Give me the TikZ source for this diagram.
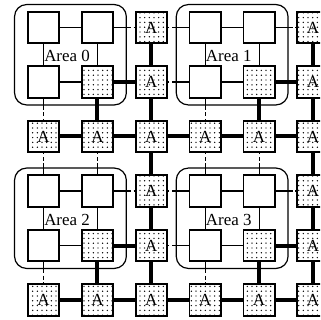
\documentclass[tikz,border=0pt]{standalone}
\usepackage{fontspec}
\setmainfont{Liberation Serif}
\usetikzlibrary{positioning,fit,patterns.meta}

\tikzdeclarepattern{name=scandots,type=uncolored,
  bounding box={(-0.7pt,-0.7pt) and (0.7pt,0.7pt)},
  tile size={(3.5pt,3.6pt)},
  code={\fill (0pt,0pt) circle [radius=0.55pt];}}

\begin{document}
\begin{tikzpicture}
[x=0.75pt,y=0.75pt,
 cell/.style={draw,line width=1.3pt,minimum size=23.5pt,inner sep=0pt,
   font=\fontsize{12.7}{15}\selectfont},
 wbox/.style={cell,fill=white},
 dbox/.style={cell,pattern=scandots},
 abox/.style={dbox},
 area/.style={draw,line width=0.9pt,rounded corners=9pt,inner xsep=9.3pt,inner ysep=4.8pt},
 areatext/.style={anchor=west,inner sep=0pt,font=\fontsize{12.7}{15}\selectfont},
 lan/.style={line width=0.8pt},
 trunk/.style={line width=3pt},
 dlink/.style={line width=0.8pt,dash pattern=on 3pt off 2pt}]
\clip (0,0) rectangle (320,-320);
% boxes inside the areas
\foreach \c/\r in {0/0,1/0,0/1,3/0,4/0,3/1,0/3,1/3,0/4,3/3,4/3,3/4}
  \node[wbox] (b\c\r) at ({43.5+53.9*\c},{-27.5-54.5*\r}) {};
\foreach \c/\r in {1/1,4/1,1/4,4/4}
  \node[dbox] (b\c\r) at ({43.5+53.9*\c},{-27.5-54.5*\r}) {};
% A boxes
\foreach \c/\r in {2/0,2/1,2/2,2/3,2/4,2/5,5/0,5/1,5/2,5/3,5/4,5/5,
                   0/2,1/2,3/2,4/2,0/5,1/5,3/5,4/5}
  \node[abox] (b\c\r) at ({43.5+53.9*\c},{-27.5-54.5*\r}) {A};
% areas
\node[area,fit=(b00)(b11)] (ar0) {};
\node[area,fit=(b30)(b41)] (ar1) {};
\node[area,fit=(b03)(b14)] (ar2) {};
\node[area,fit=(b33)(b44)] (ar3) {};
\node[areatext] (lb0) at (44,-56.25) {Area 0};
\node[areatext] (lb1) at (205.7,-56.25) {Area 1};
\node[areatext] (lb2) at (44,-219.75) {Area 2};
\node[areatext] (lb3) at (205.7,-219.75) {Area 3};
% thin links in the areas
\foreach \p/\q in {b00/b10,b00/b01,b10/b11,b01/b11,b30/b40,b30/b31,b40/b41,b31/b41,
                   b03/b13,b03/b04,b13/b14,b04/b14,b33/b43,b33/b34,b43/b44,b34/b44}
  \draw[lan] (\p) -- (\q);
% thick links
\foreach \p/\q in {b20/b21,b21/b22,b22/b23,b23/b24,b24/b25,
                   b50/b51,b51/b52,b52/b53,b53/b54,b54/b55,
                   b02/b12,b12/b22,b22/b32,b32/b42,b42/b52,
                   b05/b15,b15/b25,b25/b35,b35/b45,b45/b55,
                   b11/b21,b11/b12,b41/b51,b41/b42,b14/b24,b14/b15,b44/b54,b44/b45}
  \draw[trunk] (\p) -- (\q);
% dashed links out of the areas
\foreach \p/\q/\f in {b10/b20/ar0,b40/b50/ar1,b13/b23/ar2,b43/b53/ar3}
  {\draw[lan] (\p) -- (\p -| \f.east); \draw[dlink] (\p -| \f.east) -- (\q);}
\foreach \p/\q/\f in {b30/b20/ar1,b31/b21/ar1,b33/b23/ar3,b34/b24/ar3}
  {\draw[lan] (\p) -- (\p -| \f.west); \draw[dlink] (\p -| \f.west) -- (\q);}
\foreach \p/\q/\f in {b01/b02/ar0,b31/b32/ar1,b04/b05/ar2,b34/b35/ar3}
  {\draw[lan] (\p) -- (\p |- \f.south); \draw[dlink] (\p |- \f.south) -- (\q);}
\foreach \p/\q/\f in {b03/b02/ar2,b13/b12/ar2,b33/b32/ar3,b43/b42/ar3}
  {\draw[lan] (\p) -- (\p |- \f.north); \draw[dlink] (\p |- \f.north) -- (\q);}
\end{tikzpicture}
\end{document}
